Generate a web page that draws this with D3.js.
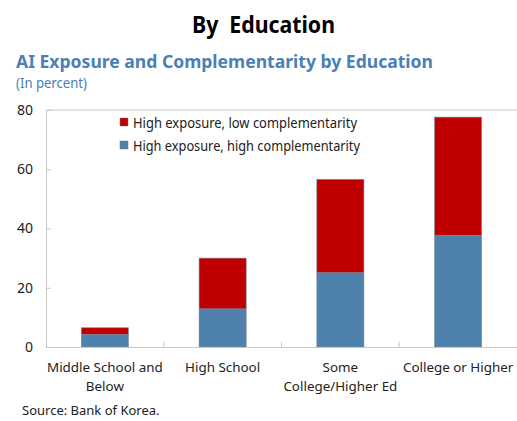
<!DOCTYPE html>
<html>
<head>
<meta charset="utf-8">
<script src="https://cdn.jsdelivr.net/npm/d3@7"></script>
<style>
  html, body { margin: 0; padding: 0; background: #fff; }
  svg { display: block; font-family: "Noto Sans", "Open Sans", sans-serif; }
</style>
</head>
<body>
<svg id="chart" width="517" height="421"></svg>
<script>
// Education levels (x categories), each label split across lines
const categories = [
  ["Middle School and", "Below"],
  ["High School"],
  ["Some", "College/Higher Ed"],
  ["College or Higher"]
];
// Share of workers, in percent
const highExpHighComp = [4.3, 12.9, 25.1, 37.7];
const highExpLowComp = [2.2, 17.1, 31.5, 39.9];
const yTicks = [0, 20, 40, 60, 80];
const seriesNames = ["High exposure, low complementarity", "High exposure, high complementarity"];

const colBlue = "#4f81ad";
const colRed = "#c00000";
const axisCol = "#c8c8c8";

const svg = d3.select("#chart");
const W = 517;

// Headings
svg.append("text").attr("x", 192).attr("y", 33)
  .attr("font-size", 24).attr("font-weight", 700).attr("fill", "#000")
  .attr("xml:space", "preserve")
  .attr("textLength", 143).attr("lengthAdjust", "spacingAndGlyphs")
  .text("By  Education");
svg.append("text").attr("x", 16).attr("y", 68)
  .attr("font-size", 18).attr("font-weight", 700).attr("fill", "#4a80b5")
  .attr("textLength", 417).attr("lengthAdjust", "spacingAndGlyphs")
  .text("AI Exposure and Complementarity by Education");
svg.append("text").attr("x", 16).attr("y", 88)
  .attr("font-size", 13.5).attr("fill", "#4a80b5")
  .attr("textLength", 71).attr("lengthAdjust", "spacingAndGlyphs")
  .text("(In percent)");

// Plot area
const x0 = 46, x1 = 517, yTop = 110, yBase = 347;
const x = d3.scaleBand().domain(d3.range(categories.length)).range([x0, x1]).paddingInner(0.6).paddingOuter(0.3);
const xBand = d3.scaleBand().domain(d3.range(categories.length)).range([x0, x1]);
const y = d3.scaleLinear().domain([0, 80]).range([yBase, yTop]);

// Top line at 80
svg.append("line").attr("x1", x0).attr("x2", W).attr("y1", y(80)).attr("y2", y(80))
  .attr("stroke", axisCol).attr("stroke-width", 1);

// Y axis with inward ticks
const yAxis = svg.append("g").attr("transform", `translate(${x0},0)`)
  .call(d3.axisRight(y).tickValues(yTicks).tickSize(5).tickFormat(d3.format("d")));
yAxis.select(".domain").attr("stroke", axisCol);
yAxis.selectAll(".tick line").attr("stroke", axisCol);
yAxis.selectAll(".tick text").attr("x", -13).attr("text-anchor", "end")
  .attr("font-size", 14).attr("fill", "#222").attr("font-family", "\"Noto Sans\", sans-serif");

// Stacked bars
const stackData = categories.map((c, i) => ({ i, high: highExpHighComp[i], low: highExpLowComp[i] }));
const stacked = d3.stack().keys(["high", "low"])(stackData);
const colors = { high: colBlue, low: colRed };
stacked.forEach(layer => {
  svg.append("g").selectAll("rect").data(layer).join("rect")
    .attr("x", d => x(d.data.i))
    .attr("width", x.bandwidth())
    .attr("y", d => y(d[1]))
    .attr("height", d => y(d[0]) - y(d[1]))
    .attr("fill", colors[layer.key])
    .attr("stroke", "#7a8a99").attr("stroke-width", 0.6);
});

// X axis: baseline with ticks between categories
svg.append("line").attr("x1", x0).attr("x2", W).attr("y1", yBase + 0.5).attr("y2", yBase + 0.5)
  .attr("stroke", axisCol);
svg.append("g").selectAll("line").data(d3.range(1, categories.length)).join("line")
  .attr("x1", d => xBand(d)).attr("x2", d => xBand(d))
  .attr("y1", yBase).attr("y2", yBase - 5).attr("stroke", axisCol);

// Category labels
const lbl = svg.append("g").selectAll("text").data(categories).join("text")
  .attr("text-anchor", "middle").attr("font-size", 13.4).attr("fill", "#222")
  .attr("transform", (d, i) => `translate(${xBand(i) + xBand.bandwidth() / 2},${yBase + 25})`);
lbl.selectAll("tspan").data(d => d).join("tspan")
  .attr("x", 0).attr("dy", (d, j) => j === 0 ? 0 : 19).text(d => d);

// Legend
const leg = svg.append("g").attr("transform", "translate(120,118)");
[colRed, colBlue].forEach((c, k) => {
  leg.append("rect").attr("x", 0).attr("y", k * 23).attr("width", 8).attr("height", 8)
    .attr("fill", c).attr("stroke", "#777").attr("stroke-width", 0.5);
  leg.append("text").attr("x", 13).attr("y", k * 23 + 9.5)
    .attr("font-size", 13.6).attr("fill", "#222")
    .attr("textLength", k === 0 ? 224 : 227).attr("lengthAdjust", "spacingAndGlyphs")
    .text(seriesNames[k]);
});

// Source note
svg.append("text").attr("x", 22).attr("y", 415).attr("font-size", 13).attr("fill", "#222")
  .text("Source: Bank of Korea.");
</script>
</body>
</html>
